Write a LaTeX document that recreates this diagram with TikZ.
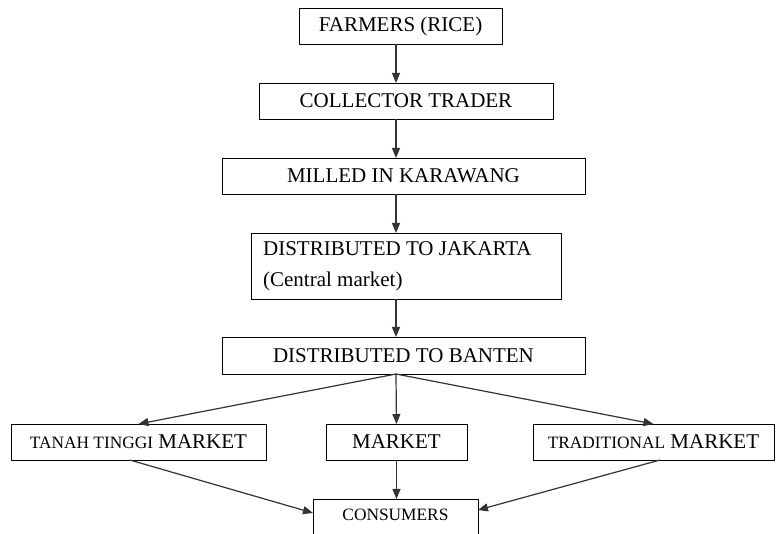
\documentclass[tikz,border=0pt]{standalone}
\usepackage{fontspec}
\setmainfont{Liberation Serif}
\usetikzlibrary{positioning}
\usetikzlibrary{arrows.meta}

\newcommand{\lowcaps}[1]{{\fontsize{13}{15}\selectfont #1}}

\begin{document}
\begin{tikzpicture}
[post/.style = {-{Triangle[length = 7.5pt, width = 6pt]}, line width = 0.9pt, black!80}, 
stage/.style = {rectangle, draw, line width = 0.6pt, outer sep = 0pt, minimum height = 27pt, inner sep = 2pt, font = \fontsize{15.75}{19}\selectfont}]

\useasboundingbox (0, 0) rectangle (582pt, -400.5pt);
\clip (0, 0) rectangle (582pt, -400.5pt);
\coordinate (spine) at (297pt, 0);

\node[stage, minimum width = 152.25pt] (farmers) at (300.4pt, -19.5pt) {FARMERS (RICE)};
\node[stage, minimum width = 220.5pt] (collector trader) [below = 29.25pt of farmers, xshift = 4.1pt] {COLLECTOR TRADER};
\node[stage, minimum width = 272.25pt] (milled) [below = 29.25pt of collector trader, xshift = -1.9pt] {MILLED IN KARAWANG};
\node[stage, minimum height = 49.5pt, align = flush left, text width = 215pt, inner xsep = 9pt, font = \fontsize{15.75}{23.25}\selectfont] (jakarta) [below = 29.25pt of milled, xshift = 2.25pt] {DISTRIBUTED TO JAKARTA\\(Central market)};
\node[stage, minimum width = 272.25pt, minimum height = 27.75pt] (banten) [below = 28.5pt of jakarta, xshift = -2.25pt] {DISTRIBUTED TO BANTEN};
\node[stage, minimum width = 105.75pt] (market) [below = 37.5pt of banten, xshift = -5.25pt] {MARKET};
\node[stage, minimum width = 191.25pt] (tanah tinggi) [left = 45pt of market] {\lowcaps{TANAH TINGGI} MARKET};
\node[stage, minimum width = 180.75pt] (traditional) [right = 49.5pt of market] {\lowcaps{TRADITIONAL} MARKET};
\node[stage, minimum width = 123.75pt, minimum height = 27.75pt, text depth = 4pt] (consumers) [below = 29.25pt of market, xshift = -0.75pt] {\lowcaps{CONSUMERS}};

% main chain
\draw[post] (farmers.south -| spine) -- (collector trader.north -| spine);
\draw[post] (collector trader.south -| spine) -- (milled.north -| spine);
\draw[post] (milled.south -| spine) -- (jakarta.north -| spine);
\draw[post] (jakarta.south -| spine) -- (banten.north -| spine);

% markets
\draw[post] (banten.south -| spine) -- (tanah tinggi.north);
\draw[post] (banten.south -| spine) -- (market.north);
\draw[post] (banten.south -| spine) -- (traditional.north);
\draw[post] ([xshift = -6.5pt]tanah tinggi.south) -- ([yshift = 3.4pt]consumers.west);
\draw[post] (market.south) -- (consumers.north -| market.south);
\draw[post] ([xshift = 4.9pt]traditional.south) -- ([yshift = 5.6pt]consumers.east);
\end{tikzpicture}
\end{document}
